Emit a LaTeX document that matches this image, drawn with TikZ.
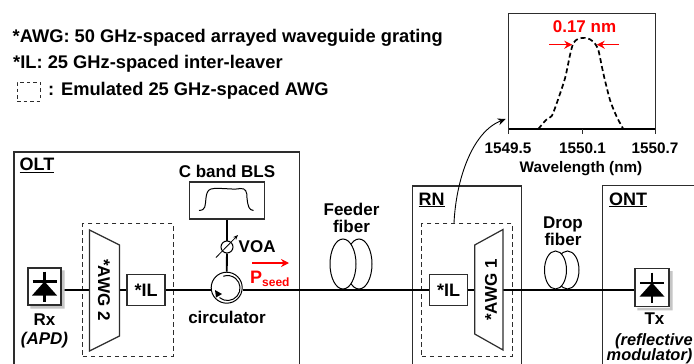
\documentclass[tikz,border=0pt]{standalone}
\usepackage{fontspec}
\setmainfont{Liberation Sans}
\usetikzlibrary{arrows.meta,calc,shapes.geometric}
\definecolor{redc}{RGB}{255,0,0}
\definecolor{boxc}{RGB}{45,45,45}
\newcommand{\txtf}{\fontsize{17}{18}\selectfont\bfseries}
\newcommand{\legf}{\fontsize{18.3}{20}\selectfont\bfseries}
\newcommand{\axf}{\fontsize{15.3}{17}\selectfont\bfseries}
\newcommand{\diodeat}[1]{%
  \draw[line width=2.8pt] ($(#1)+(0,-15)$) -- ($(#1)+(0,15)$);
  \draw[line width=2.2pt] ($(#1)+(-12,-5)$) -- ($(#1)+(12,-5)$);
  \fill ($(#1)+(0,-5)$) -- ($(#1)+(12.5,9)$) -- ($(#1)+(-12.5,9)$) -- cycle;}
\tikzset{
  lbl/.style={font=\txtf,text=black,inner sep=0pt,align=center},
  sys/.style={draw=boxc,line width=1.2pt},
  dbox/.style={draw=boxc,line width=1.2pt,dash pattern=on 4.5pt off 3.5pt},
  blk/.style={draw=boxc,line width=1.2pt,fill=white,inner sep=0pt},
  fibre/.style={draw=black,line width=1pt,fill=white},
  mainl/.style={draw=black,line width=1.9pt},
  awgs/.style={draw=boxc,line width=1.2pt,fill=white},
  redarrow/.style={draw=redc,line width=1.5pt,-{Stealth[length=8pt,width=8pt]}}
}
\begin{document}
\begin{tikzpicture}[x=1pt,y=-1pt]
\useasboundingbox (0,0) rectangle (694,364);
\clip (0,0) rectangle (694,364);
\fill[white] (0,0) rectangle (694,364);
% legend
\node[lbl,font=\legf,anchor=west] (l1) at (12.5,37.5) {*AWG: 50 GHz-spaced arrayed waveguide grating};
\node[lbl,font=\legf,anchor=west] (l2) at (13,64) {*IL: 25 GHz-spaced inter-leaver};
\node[dbox,minimum width=23pt,minimum height=19pt,inner sep=0pt,line width=1pt,dash pattern=on 3.5pt off 3pt] (l3b) at (28.5,91.5) {};
\node[lbl,font=\legf,anchor=west] (l3) at (48,90.5) {: Emulated 25 GHz-spaced AWG};
% system boxes
\draw[sys] (14,380) -- (14,152) -- (299.5,152) -- (299.5,380);
\draw[sys] (412.7,380) -- (412.7,186) -- (521.7,186) -- (521.7,380);
\draw[sys] (702.7,185.7) -- (602.7,185.7) -- (602.7,380);
\node[lbl,font=\fontsize{18}{20}\selectfont\bfseries,anchor=base west] (olt) at (19.5,170.5) {\underline{OLT}};
\node[lbl,font=\fontsize{18}{20}\selectfont\bfseries,anchor=base west] (rn) at (418.5,205) {\underline{RN}};
\node[lbl,font=\fontsize{18}{20}\selectfont\bfseries,anchor=base west] (ont) at (609,205) {\underline{ONT}};
% dashed groups
\node[dbox,minimum width=90.5pt,minimum height=132.5pt,inner sep=0pt] (g1) at (128,290) {};
\node[dbox,minimum width=90.5pt,minimum height=132.5pt,inner sep=0pt] (g2) at (467,290) {};
% named anchors
\coordinate (main) at (0,290);
\coordinate (tipplot) at (505.7,119);
% blocks
\node[blk,minimum width=33pt,minimum height=37pt] (rx) at (44.5,286.5) {};
\node[blk,minimum width=34pt,minimum height=38pt] (tx) at (652,287.7) {};
\node[blk,minimum width=38pt,minimum height=30.5pt,font=\fontsize{18}{20}\selectfont\bfseries] (il1) at (146,290) {*IL};
\node[blk,minimum width=38pt,minimum height=30.5pt,font=\fontsize{18}{20}\selectfont\bfseries] (il2) at (448.5,290) {*IL};
\node[blk,minimum width=74.5pt,minimum height=37pt] (bls) at (227,200.5) {};
\node[circle,draw=black,line width=1pt,fill=white,minimum size=31pt,inner sep=0pt] (circ) at (226.7,287.7) {};
\node[circle,draw=black,line width=1pt,minimum size=12pt,inner sep=0pt] (voa) at (227,247) {};
\coordinate (awg2l) at (89.5,290);
\coordinate (awg2r) at (119.5,290);
\coordinate (awg1l) at (474.7,290);
\coordinate (awg1r) at (503,290);
% connectors
\draw[mainl] (rx.east |- main) -- (awg2l);
\draw[mainl] (awg2r) -- (il1.west);
\draw[mainl] (il1.east) -- (circ.west |- main);
\draw[mainl] (circ.east |- main) -- (il2.west);
\draw[mainl] (il2.east) -- (awg1l);
\draw[mainl] (awg1r) -- (tx.west |- main);
\draw[mainl] (bls.south) -- (voa.north);
\draw[mainl] (voa.south) -- (circ.north);
% shapes on top
\fill[gray!45] ($(rx.south west)+(3,0.6)$) -- ($(rx.south west)+(3,3)$) -- ($(rx.south east)+(3,3)$) -- ($(rx.north east)+(3,3)$) -- ($(rx.north east)+(0.6,3)$) -- ($(rx.south east)+(0.6,0.6)$) -- cycle;
\fill[gray!45] ($(tx.south west)+(3,0.6)$) -- ($(tx.south west)+(3,3)$) -- ($(tx.south east)+(3,3)$) -- ($(tx.north east)+(3,3)$) -- ($(tx.north east)+(0.6,3)$) -- ($(tx.south east)+(0.6,0.6)$) -- cycle;
\diodeat{rx}
\diodeat{tx}
\draw[awgs] (89.5,230) -- (119.5,245) -- (119.5,336) -- (89.5,351) -- cycle;
\draw[awgs] (503,229.5) -- (474.7,245) -- (474.7,334) -- (503,350) -- cycle;
\node[lbl,rotate=-90] (a2) at (104,290) {*AWG 2};
\node[lbl,rotate=90] (a1) at (491,290) {*AWG 1};
% BLS spectrum
\draw[black,line width=1pt] (199,210.5) .. controls (206,210) and (205,206) .. (206,198) .. controls (207,190) and (209,189) .. (214,188.5) .. controls (225,188) and (235,190) .. (240,188.5) .. controls (246,188) and (247,192) .. (247,198) .. controls (248,207) and (249,210) .. (253.5,210.5);
\node[lbl] (blst) at (227,171) {C band BLS};
% VOA
\draw[black,line width=0.8pt,-{Stealth[length=5pt,width=4pt]}] (216,257.5) -- (238,235);
\node[lbl,anchor=west] (voat) at (238.5,247) {VOA};
% circulator inner
\draw[black,line width=1pt] (219.5,297.6) arc (130:-110:12.5);
\fill (215,290) -- (222,294) -- (216,297.5) -- cycle;
\node[lbl] (circt) at (227,317) {circulator};
% Pseed
\draw[redarrow,line width=2pt] (252,263) -- (289,263);
\node[lbl,text=redc,anchor=base west,font=\fontsize{18}{20}\selectfont\bfseries] (pseed) at (250,283.5) {P\raisebox{-3pt}{\fontsize{12}{13}\selectfont seed}};
% Rx Tx labels
\node[lbl] (rxt) at (44.5,320) {Rx};
\node[lbl,font=\fontsize{17}{18}\selectfont\bfseries\itshape] (apd) at (44.5,340) {(APD)};
\node[lbl] (txt) at (654.5,319) {Tx};
\node[lbl,font=\fontsize{16.4}{18}\selectfont\bfseries\itshape,anchor=west] (refl) at (615,341) {(reflective};
\node[lbl,font=\fontsize{16.4}{18}\selectfont\bfseries\itshape,anchor=west] (modu) at (606.5,356) {modulator)};
% fibres
\draw[fibre] (359,264) ellipse [x radius=13, y radius=25];
\draw[fibre] (343,264) ellipse [x radius=13, y radius=25];
\draw[fibre] (567.5,270) ellipse [x radius=11.5, y radius=19];
\draw[fibre] (555.5,270) ellipse [x radius=11, y radius=19];
\draw[mainl] (329,290) -- (373,290);
\draw[mainl] (544,290) -- (580,290);
\node[lbl] (ff) at (351.5,218) {Feeder\\[-1.5pt]fiber};
\node[lbl] (df) at (563,231) {Drop\\[-1.5pt]fiber};
% plot
\draw[draw=boxc,line width=1pt] (508.7,129) -- (508.7,13.3) -- (655.3,13.3) -- (655.3,129);
\draw[black,line width=1.2pt] (508.7,129) -- (655.3,129);
\foreach \xx in {508.7,582,655.3} \draw[boxc,line width=1pt] (\xx,129) -- (\xx,134);
\node[lbl,font=\axf] (t1) at (508,148) {1549.5};
\node[lbl,font=\axf] (t2) at (582.5,148) {1550.1};
\node[lbl,font=\axf] (t3) at (655,148) {1550.7};
\node[lbl,font=\axf] (wl) at (581,168.5) {Wavelength (nm)};
\node[lbl,text=redc] (w017) at (584.5,27) {0.17 nm};
\draw[black,line width=1.7pt,dash pattern=on 5pt off 3pt] plot[smooth,tension=0.45] coordinates {(538.3,129) (546,120) (551.7,116) (556.7,103.3) (565,78.3) (570,55) (573.3,43.3) (578.3,38.7) (586.7,38) (593.3,41.7) (598.3,50) (603.3,73.3) (610,100) (616.7,116.7) (623.3,129)};
\draw[redarrow] (549.3,44.7) -- (572.3,44.7);
\draw[redarrow] (619,44.7) -- (596.7,44.7);
% callout
\draw[black,line width=0.9pt,-{Stealth[length=8pt,width=7pt]}] (g2.north -| 454,0) .. controls (456,180) and (472,132) .. (tipplot);
\end{tikzpicture}
\end{document}
